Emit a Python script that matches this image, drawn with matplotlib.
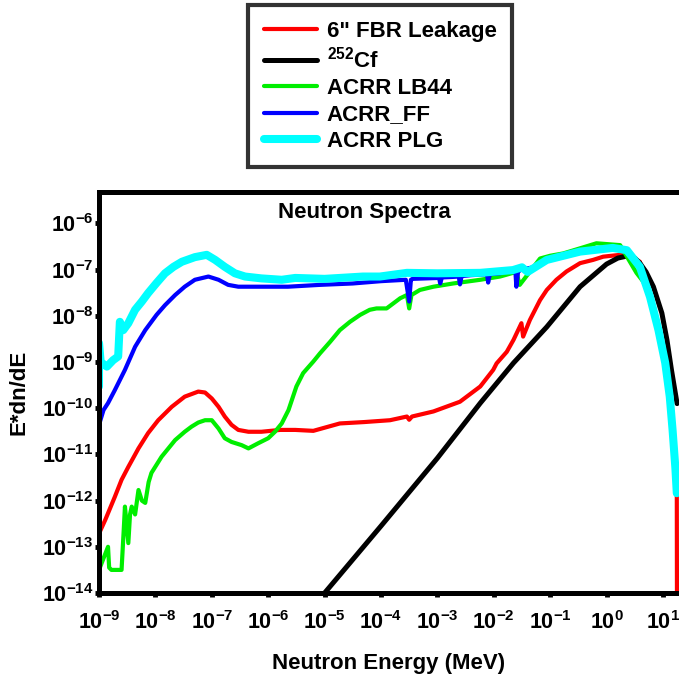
import numpy as np
import matplotlib
matplotlib.use("Agg")
import matplotlib.pyplot as plt
from matplotlib.ticker import FuncFormatter, LogLocator

plt.rcParams.update({
    "font.family": "Liberation Sans",
    "font.weight": "bold",
    "mathtext.fontset": "custom",
    "mathtext.rm": "Liberation Sans:bold",
    "mathtext.bf": "Liberation Sans:bold",
    "mathtext.it": "Liberation Sans:bold",
})

# values, stored as log10(E [MeV]) and log10(E*dn/dE)
fbr_log_e = [-9.01, -8.89, -8.72, -8.6, -8.48, -8.3, -8.13, -7.95, -7.71, -7.48, -7.24, -7.12,
             -7.0, -6.88, -6.77, -6.65, -6.53, -6.35, -6.12, -5.79, -5.52, -5.2, -4.73, -4.3,
             -3.84, -3.54, -3.5, -3.45, -3.07, -2.6, -2.24, -2.01, -1.95, -1.77, -1.65, -1.51,
             -1.48, -1.36, -1.18, -1.06, -0.89, -0.71, -0.47, -0.24, -0.06, 0.24, 0.45, 0.59,
             0.77, 0.92, 1.04, 1.12, 1.17, 1.22, 1.245, 1.25]
fbr_log_y = [-12.74, -12.42, -11.92, -11.55, -11.27, -10.87, -10.54, -10.26, -9.97, -9.75, -9.64, -9.66,
             -9.79, -9.97, -10.18, -10.36, -10.47, -10.51, -10.51, -10.47, -10.47, -10.49, -10.33, -10.3,
             -10.26, -10.18, -10.25, -10.18, -10.07, -9.86, -9.53, -9.17, -9.03, -8.78, -8.52, -8.16,
             -8.45, -8.09, -7.66, -7.44, -7.22, -7.04, -6.86, -6.79, -6.72, -6.68, -6.72, -6.83,
             -7.55, -8.3, -9.0, -9.75, -10.47, -11.3, -11.84, -16.0]

cf_log_e = [-5.1, -5.0, -4.0, -3.0, -2.24, -1.65, -1.06, -0.47, 0.0, 0.2, 0.35, 0.5,
            0.59, 0.7, 0.83, 0.98, 1.07, 1.15, 1.25]
cf_log_y = [-14.15, -14.0, -12.55, -11.08, -9.89, -9.02, -8.24, -7.37, -6.88, -6.75, -6.71, -6.75,
            -6.86, -7.05, -7.37, -7.94, -8.52, -9.17, -9.9]

lb44_log_e = [-9.0, -8.84, -8.82, -8.78, -8.6, -8.56, -8.54, -8.48, -8.45, -8.42, -8.36, -8.3,
              -8.24, -8.18, -8.12, -8.07, -7.89, -7.65, -7.48, -7.36, -7.24, -7.12, -7.0, -6.88,
              -6.77, -6.65, -6.47, -6.35, -6.18, -6.0, -5.88, -5.76, -5.64, -5.5, -5.38, -5.2,
              -5.08, -4.9, -4.73, -4.55, -4.37, -4.2, -4.08, -3.9, -3.78, -3.66, -3.54, -3.5,
              -3.46, -3.31, -3.07, -2.72, -2.24, -1.89, -1.6, -1.54, -1.18, -1.0, -0.77, -0.5,
              -0.18, 0.24, 0.53, 0.65, 0.77, 0.92, 1.04, 1.12, 1.17, 1.22, 1.245]
lb44_log_y = [-13.5, -13.0, -13.45, -13.5, -13.5, -12.6, -12.13, -12.92, -12.3, -12.13, -12.3, -11.77,
              -12.0, -12.05, -11.6, -11.4, -11.05, -10.69, -10.51, -10.4, -10.31, -10.26, -10.26, -10.44,
              -10.65, -10.73, -10.8, -10.87, -10.76, -10.65, -10.51, -10.33, -10.04, -9.53, -9.24, -8.99,
              -8.81, -8.56, -8.31, -8.13, -7.98, -7.87, -7.84, -7.84, -7.73, -7.62, -7.55, -7.84,
              -7.55, -7.44, -7.37, -7.3, -7.22, -7.15, -7.05, -7.33, -6.76, -6.7, -6.65, -6.55,
              -6.43, -6.47, -7.07, -7.26, -7.55, -8.3, -9.0, -9.75, -10.47, -11.3, -11.84]

ff_log_e = [-9.01, -8.92, -8.84, -8.72, -8.54, -8.36, -8.18, -7.98, -7.83, -7.65, -7.48, -7.3,
            -7.06, -6.88, -6.71, -6.53, -6.12, -5.65, -5.08, -4.5, -4.0, -3.56, -3.5, -3.47,
            -3.44, -3.2, -2.97, -2.95, -2.92, -2.75, -2.62, -2.6, -2.57, -2.4, -2.12, -2.1,
            -2.07, -1.89, -1.62, -1.6, -1.57, -1.52, -1.3, -1.06, -0.47, 0.11, 0.36, 0.59,
            0.77, 0.92, 1.04, 1.12, 1.17, 1.22, 1.245]
ff_log_y = [-10.4, -10.04, -9.89, -9.61, -9.17, -8.67, -8.31, -7.98, -7.77, -7.55, -7.37, -7.22,
            -7.15, -7.22, -7.33, -7.37, -7.37, -7.37, -7.33, -7.3, -7.25, -7.22, -7.69, -7.22,
            -7.2, -7.19, -7.18, -7.3, -7.17, -7.16, -7.15, -7.32, -7.14, -7.12, -7.1, -7.28,
            -7.1, -7.08, -6.98, -7.37, -7.05, -7.0, -6.95, -6.79, -6.61, -6.53, -6.58, -6.94,
            -7.59, -8.31, -9.02, -9.75, -10.47, -11.3, -11.84]

plg_log_e = [-9.0, -9.0, -8.97, -8.86, -8.75, -8.66, -8.63, -8.57, -8.48, -8.36, -8.24, -8.13,
             -7.98, -7.83, -7.68, -7.53, -7.3, -7.09, -6.94, -6.77, -6.59, -6.41, -6.12, -5.76,
             -5.52, -5.0, -4.32, -4.02, -3.54, -3.0, -2.24, -1.66, -1.5, -1.4, -1.06, -0.47,
             0.11, 0.36, 0.59, 0.77, 0.92, 1.04, 1.12, 1.17, 1.22, 1.245]
plg_log_y = [-9.53, -8.59, -9.0, -9.1, -8.96, -8.88, -8.13, -8.31, -8.16, -7.87, -7.69, -7.51,
             -7.29, -7.08, -6.94, -6.83, -6.73, -6.68, -6.79, -6.94, -7.08, -7.15, -7.19, -7.22,
             -7.18, -7.2, -7.15, -7.15, -7.07, -7.08, -7.07, -7.01, -6.95, -7.05, -6.79, -6.61,
             -6.53, -6.58, -6.94, -7.59, -8.31, -9.02, -9.75, -10.47, -11.3, -11.84]

series = [
    ("6\" FBR Leakage", fbr_log_e, fbr_log_y, "#ff0000", 3.0),
    ("$^{252}$Cf", cf_log_e, cf_log_y, "#000000", 3.6),
    ("ACRR LB44", lb44_log_e, lb44_log_y, "#00ee00", 3.0),
    ("ACRR_FF", ff_log_e, ff_log_y, "#0000ff", 3.0),
    ("ACRR PLG", plg_log_e, plg_log_y, "#00ffff", 5.8),
]

fig = plt.figure(figsize=(6.79, 6.80), dpi=100)
ax = fig.add_axes([99 / 679, 1 - 593 / 680, 580 / 679, 401 / 680])

for label, le, ly, color, lw in series:
    ax.plot(np.power(10.0, le), np.power(10.0, ly), color=color, lw=lw,
            label=label, solid_capstyle="round", solid_joinstyle="round")

ax.set_xscale("log")
ax.set_yscale("log")
ax.set_xlim(1e-9, 10 ** 1.284)
ax.set_ylim(1e-14, 10 ** -5.32)

ax.xaxis.set_major_locator(LogLocator(base=10, numticks=20))
ax.yaxis.set_major_locator(LogLocator(base=10, numticks=20))
ax.xaxis.set_minor_locator(plt.NullLocator())
ax.yaxis.set_minor_locator(plt.NullLocator())
fmt = FuncFormatter(lambda v, p: r"$\mathbf{10^{%d}}$" % round(np.log10(v)))
ax.xaxis.set_major_formatter(fmt)
ax.yaxis.set_major_formatter(fmt)
ax.tick_params(which="major", direction="out", length=3, width=3.5, labelsize=15.5)
ax.tick_params(axis="x", pad=10)
ax.tick_params(axis="y", pad=1)

for s in ["left", "bottom", "top"]:
    ax.spines[s].set_linewidth(3.6)
ax.spines["right"].set_visible(False)

ax.set_xlabel("Neutron Energy (MeV)", fontsize=16, fontweight="bold", labelpad=14)
ax.set_ylabel("E*dn/dE", fontsize=16, fontweight="bold", labelpad=9)
ax.text(0.457, 0.948, "Neutron Spectra", transform=ax.transAxes,
        ha="center", va="center", fontsize=16, fontweight="bold")

leg = fig.legend(loc="upper left", bbox_to_anchor=(248 / 679, 1 - 5 / 680),
                 fontsize=16, frameon=True, fancybox=False, handlelength=2.4,
                 handletextpad=0.45, labelspacing=0.24, borderpad=0.7,
                 borderaxespad=0)
leg.get_frame().set_edgecolor("black")
leg.get_frame().set_linewidth(3.0)
for t in leg.get_texts():
    t.set_fontweight("bold")

fig.savefig("out.png", dpi=100)
